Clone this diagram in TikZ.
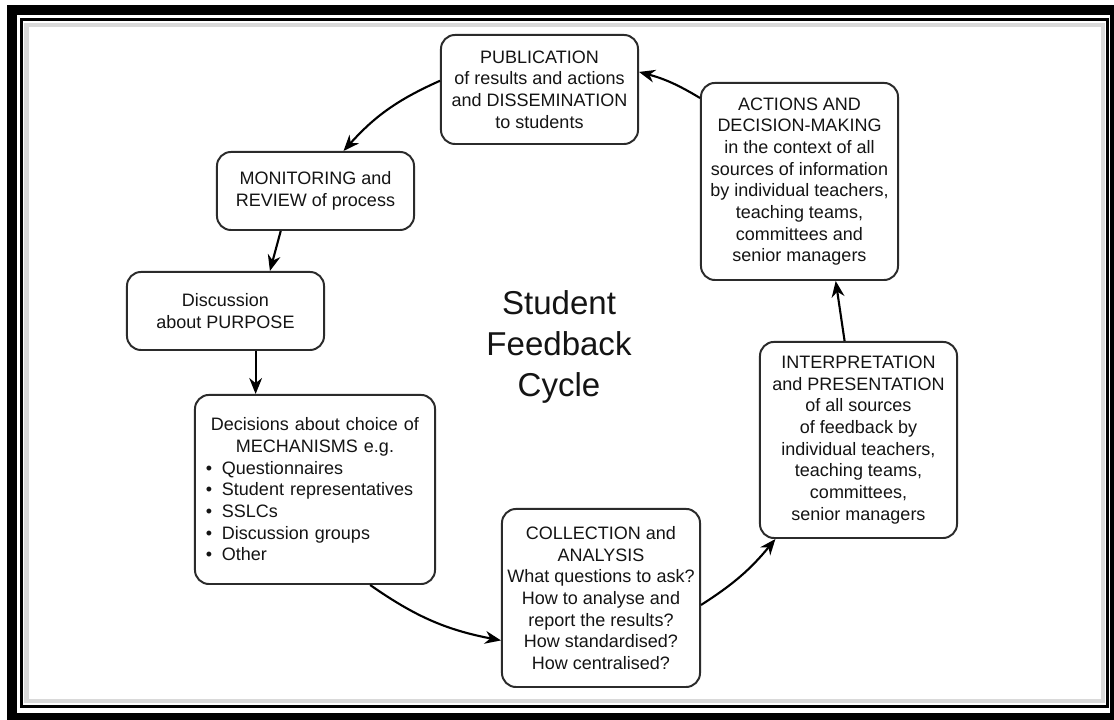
\documentclass[tikz,border=0pt]{standalone}
\usepackage{fontspec}
\setmainfont{Liberation Sans}
\usetikzlibrary{arrows.meta}
\definecolor{ink}{HTML}{2B2B2B}
\newcommand{\itm}{\makebox[0.4cm][l]{\textbullet}}
\tikzset{
  box/.style    ={draw=ink, line width=1.4pt, rounded corners=0.35cm, align=center,
                  minimum width=4.925cm, inner xsep=2pt, text=black!92,
                  font=\fontsize{12.8pt}{15.4pt}\selectfont},
  arr/.style    ={-{Stealth[length=0.4cm, width=0.32cm]}, line width=1.5pt},
  ttl/.style    ={align=center, text=black!92,
                  font=\fontsize{23.5pt}{29.4pt}\selectfont},
  frame/.style  ={line width=0.075cm},
}

\begin{document}
\begin{tikzpicture}[x=0.025cm, y=0.025cm]
  \useasboundingbox[fill=white] (0,0) rectangle (1114,720);
  \begin{scope}
    \clip (0,0) rectangle (1114,720);
    \draw[line width=0.25cm] (12,2) rectangle (1115,710);
  \end{scope}
  \draw[black!15, line width=0.1cm] (26.5,18.5) rectangle (1103,695);
  \draw[frame] (21.5,13.5) rectangle (1107,700);

  \node[box, minimum height=2.725cm] (pub)  at (539.5,630.5)
    {PUBLICATION\\of results and actions\\and DISSEMINATION\\to students};
  \node[box, minimum height=1.95cm]  (mon)  at (315.5,529)
    {MONITORING and\\REVIEW of process};
  \node[box, minimum height=1.95cm]  (disc) at (225.5,409)
    {Discussion\\about PURPOSE};
  \node[box, minimum width=6cm, minimum height=4.725cm, text width=5.45cm, align=left]
    (mech) at (315,230.5)
    {\centering Decisions about choice of\\ MECHANISMS e.g.\par
     \raggedright\itm Questionnaires\\ \itm Student representatives\\ \itm SSLCs\\
     \itm Discussion groups\\ \itm Other};
  \node[box, minimum width=4.95cm, minimum height=4.45cm] (coll) at (601,122)
    {COLLECTION and\\ANALYSIS\\What questions to ask?\\How to analyse and\\
     report the results?\\How standardised?\\How centralised?};
  \node[box, minimum height=4.9cm]   (interp) at (858.5,280)
    {INTERPRETATION\\and PRESENTATION\\of all sources\\of feedback by\\
     individual teachers,\\teaching teams,\\committees,\\senior managers};
  \node[box, minimum height=4.925cm] (act)  at (799.5,538.5)
    {ACTIONS AND\\DECISION-MAKING\\in the context of all\\sources of information\\
     by individual teachers,\\teaching teams,\\committees and\\senior managers};
  \node[ttl] (title) at (559,373) {Student\\Feedback\\Cycle};

  \draw[arr] (act.140)   to[bend right=8]  (pub.10);
  \draw[arr] (pub.175)   to[bend right=12] (mon.55);
  \draw[arr] (mon.229)   --                (disc.42);
  \draw[arr] (disc.-53)  --                (disc.-53 |- mech.north);
  \draw[arr] (mech.-60)  to[bend right=12] (coll.203);
  \draw[arr] (coll.-4)   to[bend right=9]  (interp.230);
  \draw[arr] (interp.98) --                (act.-70);
\end{tikzpicture}
\end{document}
